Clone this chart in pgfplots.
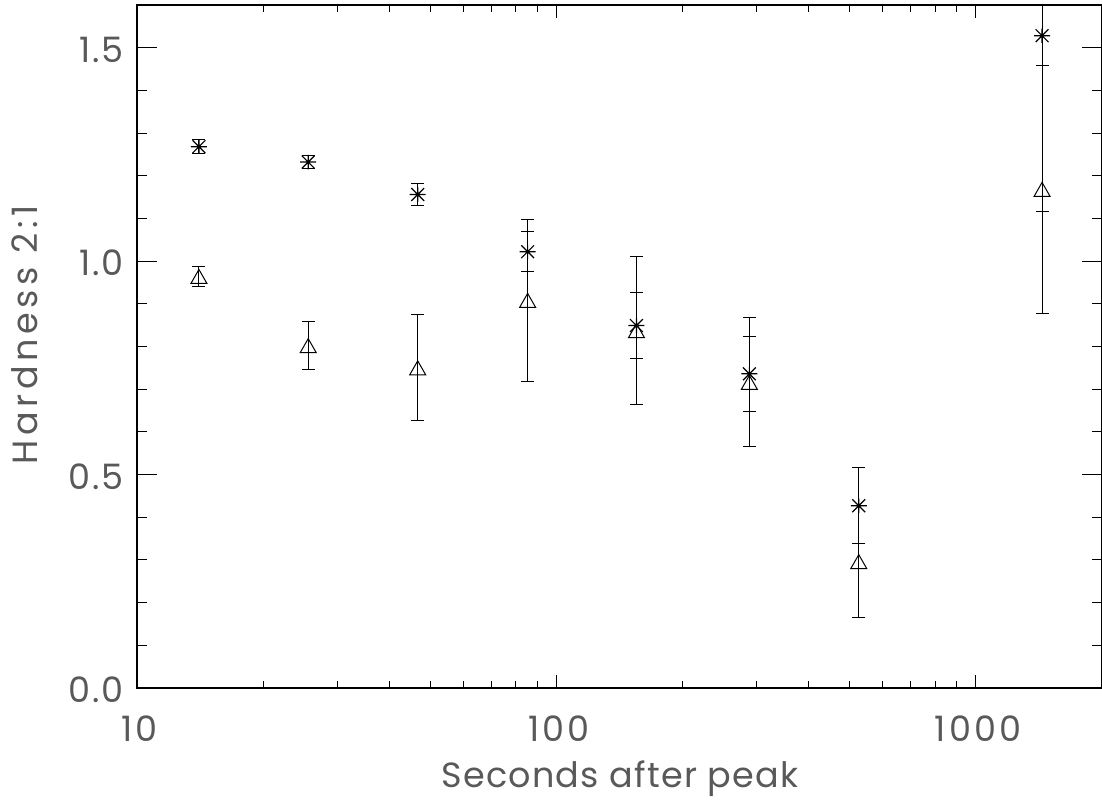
\documentclass[border=0pt]{standalone}
\usepackage{pgfplots}
\pgfplotsset{compat=1.18}
\usepackage{fontspec}
\setmainfont{Poppins}
\usetikzlibrary{calc}

\pgfdeclareplotmark{idlstar}{%
  \pgfpathmoveto{\pgfqpoint{-\pgfplotmarksize}{0pt}}%
  \pgfpathlineto{\pgfqpoint{\pgfplotmarksize}{0pt}}%
  \pgfpathmoveto{\pgfqpoint{0pt}{-0.9\pgfplotmarksize}}%
  \pgfpathlineto{\pgfqpoint{0pt}{0.9\pgfplotmarksize}}%
  \pgfpathmoveto{\pgfqpoint{-0.8\pgfplotmarksize}{-0.8\pgfplotmarksize}}%
  \pgfpathlineto{\pgfqpoint{0.8\pgfplotmarksize}{0.8\pgfplotmarksize}}%
  \pgfpathmoveto{\pgfqpoint{-0.8\pgfplotmarksize}{0.8\pgfplotmarksize}}%
  \pgfpathlineto{\pgfqpoint{0.8\pgfplotmarksize}{-0.8\pgfplotmarksize}}%
  \pgfusepathqstroke}
\pgfdeclareplotmark{idltri}{%
  \pgfpathmoveto{\pgfqpoint{-\pgfplotmarksize}{-0.875\pgfplotmarksize}}%
  \pgfpathlineto{\pgfqpoint{0pt}{0.875\pgfplotmarksize}}%
  \pgfpathlineto{\pgfqpoint{\pgfplotmarksize}{-0.875\pgfplotmarksize}}%
  \pgfpathclose\pgfusepathqstroke}

\pgfplotstableread{
x      y      e
14.05  1.268  0.016
25.6   1.232  0.016
46.7   1.156  0.026
85.4   1.022  0.047
155.2  0.849  0.078
288.5  0.736  0.088
526    0.427  0.089
1439   1.528  0.411
}\stars
\pgfplotstableread{
x      y      e
14.05  0.964  0.023
25.6   0.802  0.057
46.7   0.750  0.124
85.4   0.908  0.190
155.2  0.837  0.173
288.5  0.716  0.151
526    0.296  0.131
1439   1.168  0.290
}\tris

\newcommand{\lblfont}[1]{\fontsize{17.5}{21}\selectfont\addfontfeatures{LetterSpace=#1}}

\begin{document}
\begin{tikzpicture}
% axis with x ticks
\begin{semilogxaxis}[name=ax,
  width=482.5pt, height=341.5pt, scale only axis,
  xmin=10, xmax=2000, ymin=0, ymax=1.6,
  axis line style={line width=0.6pt},
  tick style={line width=0.5pt, black},
  tick align=inside,
  xtick={10,100,1000}, xticklabels={10,100,1000},
  ytick=\empty,
  major tick length=6.5pt, minor tick length=3.5pt,
  xticklabel style={font=\lblfont{9}, text=black!65, anchor=north, inner sep=0pt, yshift=-13.5pt, xshift=1.2pt},
  xlabel={Seconds after peak},
  xlabel style={font=\lblfont{3.5}, text=black!65, at={(axis description cs:0.5,-0.145)}, anchor=base, inner sep=0pt, xshift=0.3pt},
]
\addplot[draw=none, forget plot] coordinates {(20,0.5)};
\end{semilogxaxis}
% axis with y ticks and data
\begin{semilogxaxis}[
  width=482.5pt, height=341.5pt, scale only axis,
  xmin=10, xmax=2000, ymin=0, ymax=1.6,
  axis line style={line width=0.6pt},
  tick style={line width=0.5pt, black},
  tick align=inside,
  xtick=\empty, minor xtick={},
  ytick={0,0.5,1.0,1.5}, yticklabels={0.0,0.5,1.0,1.5},
  minor y tick num=4,
  major tick length=10pt, minor tick length=5pt,
  yticklabel style={font=\lblfont{5}, text=black!65, anchor=east, inner sep=0pt, xshift=-6.5pt, yshift=-1pt},
  ylabel={Hardness 2:1},
  ylabel style={font=\lblfont{13}, text=black!65, at={(axis description cs:-0.116,0.517)}, anchor=center, inner sep=0pt},
]
\addplot[only marks, mark=idlstar, mark size=4pt, line width=0.6pt,
  error bars/.cd, y dir=both, y explicit,
  error bar style={line width=0.5pt},
  error mark options={rotate=90, mark size=3.25pt, line width=0.5pt}]
  table[x=x, y=y, y error=e] {\stars};
\addplot[only marks, mark=idltri, mark size=4pt, line width=0.5pt,
  error bars/.cd, y dir=both, y explicit,
  error bar style={line width=0.5pt},
  error mark options={rotate=90, mark size=3.25pt, line width=0.5pt}]
  table[x=x, y=y, y error=e] {\tris};
\end{semilogxaxis}
\pgfresetboundingbox
\path[use as bounding box] ($(ax.south west)+(-68.5pt,-56.5pt)$) rectangle ($(ax.north east)+(0pt,2.5pt)$);
\end{tikzpicture}
\end{document}
